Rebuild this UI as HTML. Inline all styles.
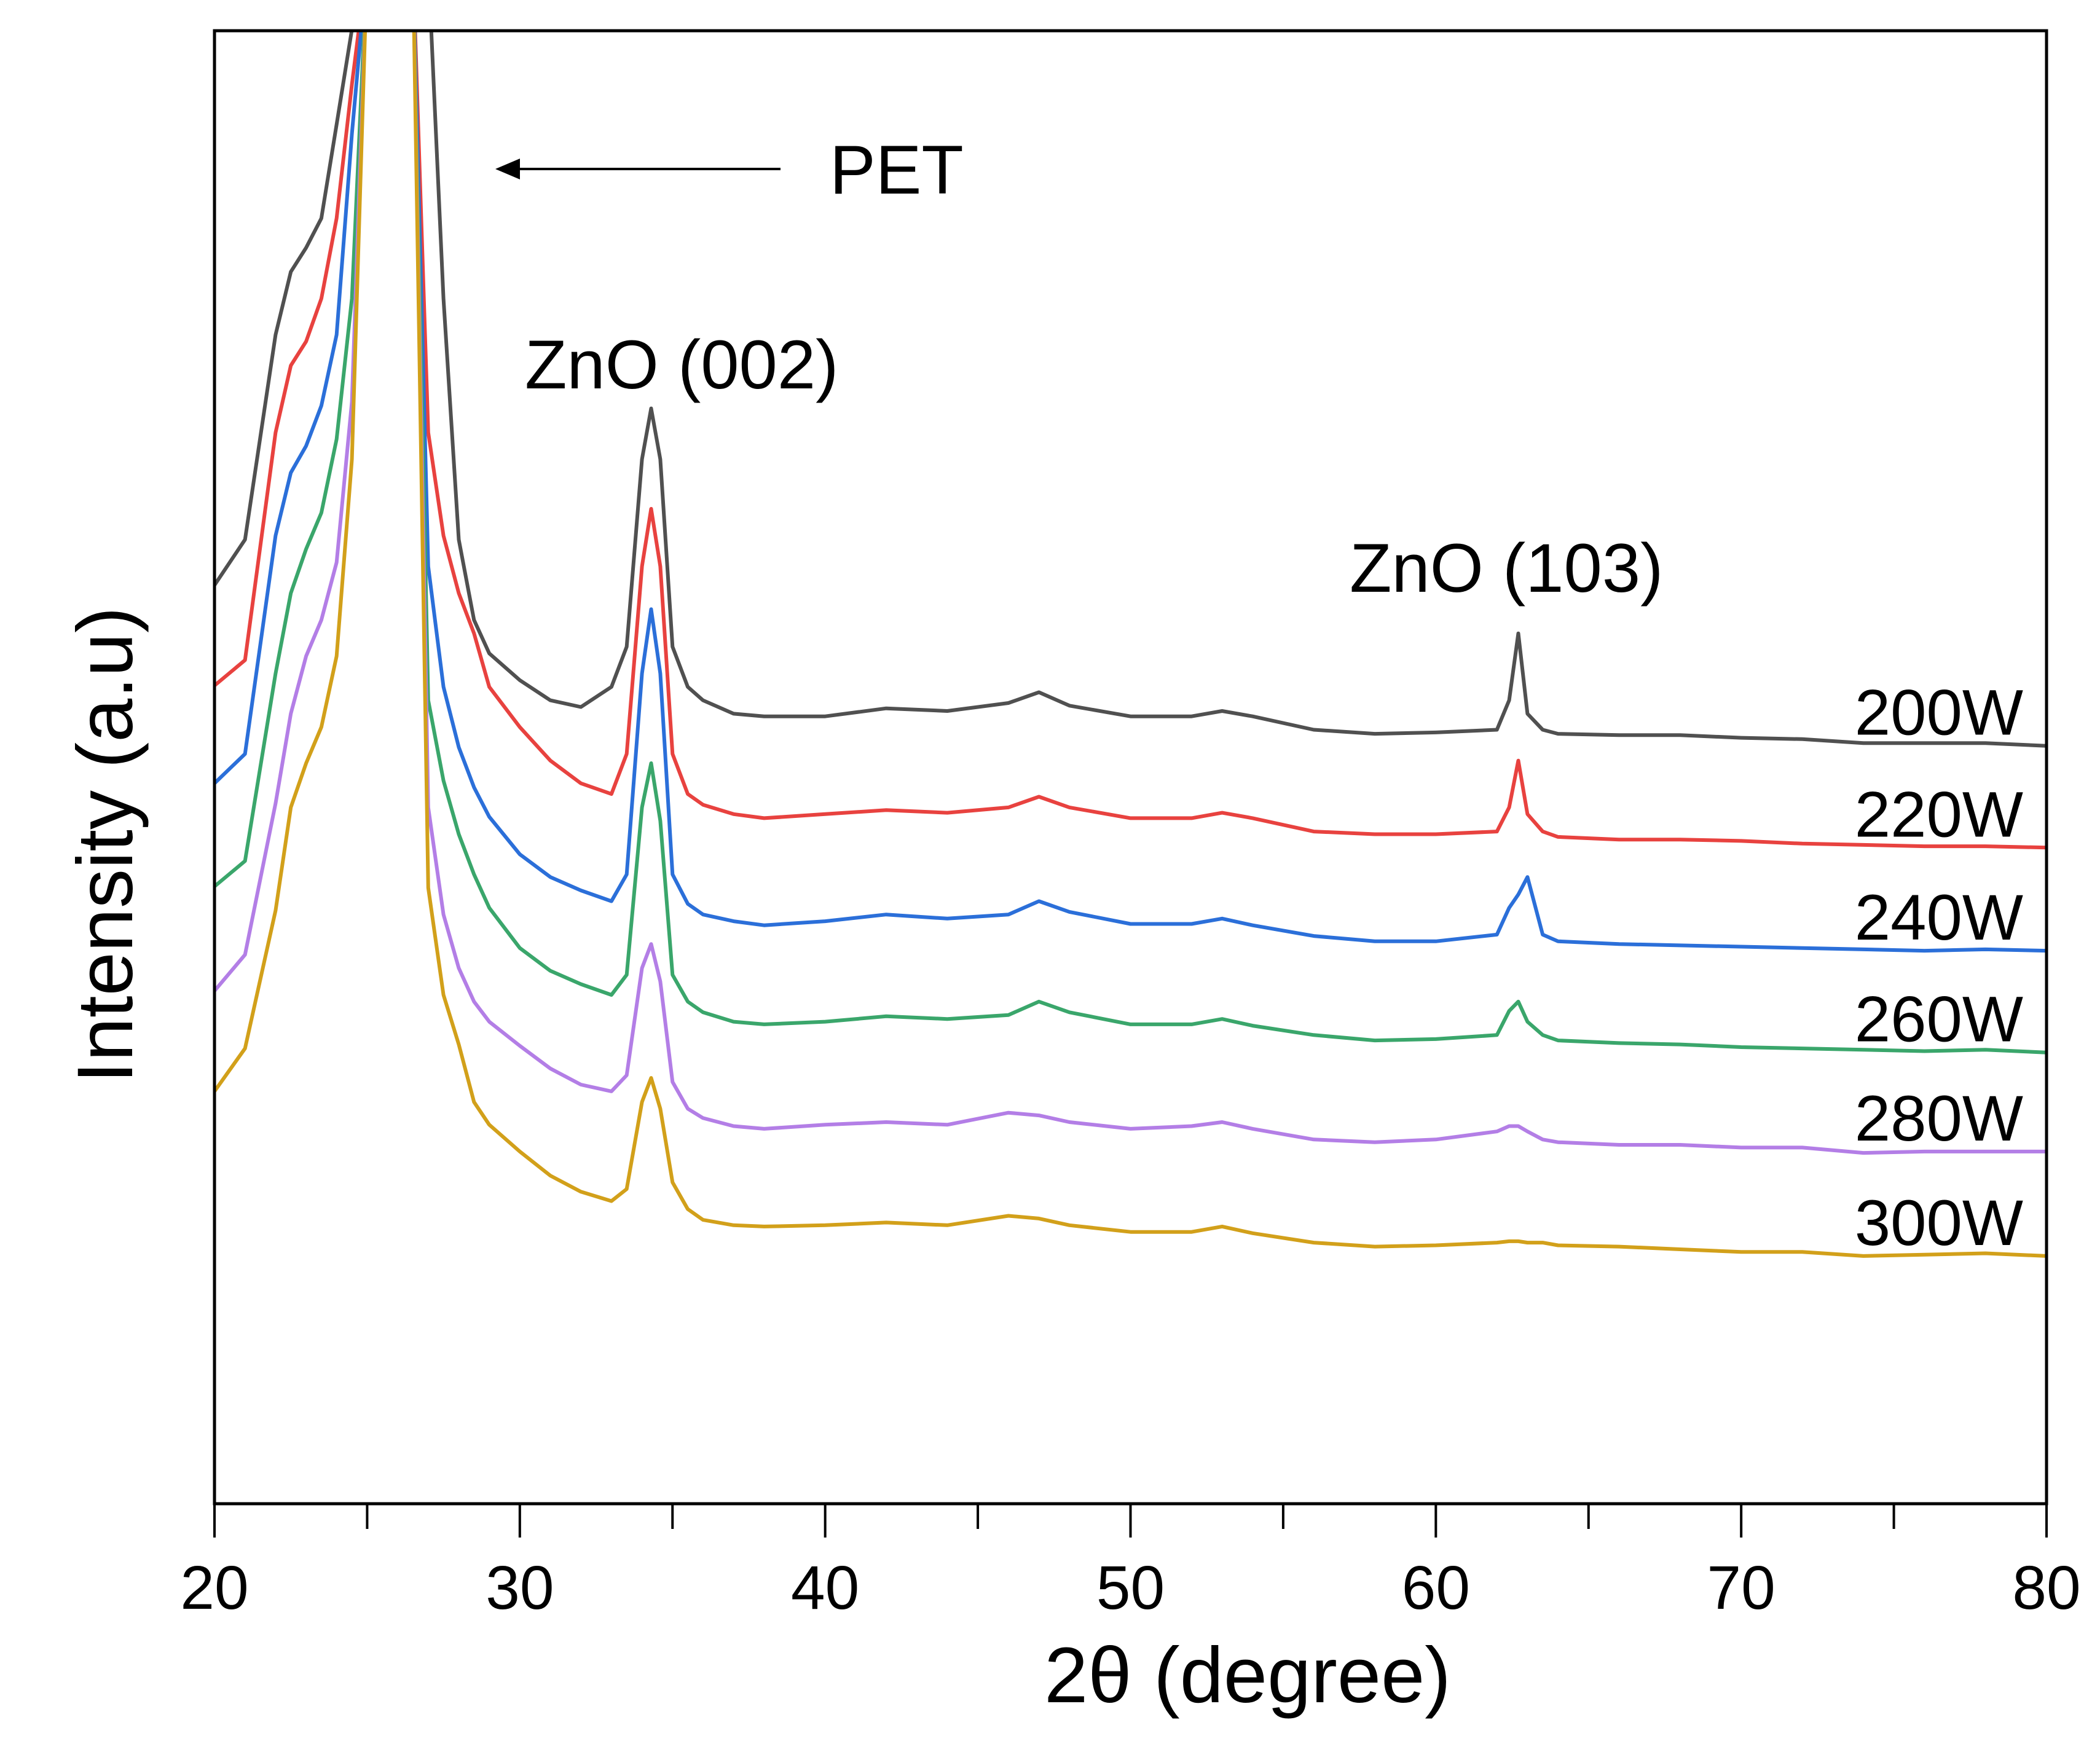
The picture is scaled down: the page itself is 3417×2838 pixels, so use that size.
<!DOCTYPE html>
<html><head><meta charset="utf-8"><style>
html,body{margin:0;padding:0;background:#fff;}
svg{display:block;font-family:"Liberation Sans",sans-serif;}
</style></head><body>
<svg id="chart" width="3417" height="2838" viewBox="0 0 3417 2838">
<defs><clipPath id="pc"><rect x="349" y="50" width="2981" height="2397"/></clipPath></defs>
<g id="series" clip-path="url(#pc)"></g>
<rect x="349" y="50" width="2981" height="2397" fill="none" stroke="#000" stroke-width="5"/>
<g id="ticks"></g>
<text x="2030" y="2770" font-size="128" text-anchor="middle">2θ  (degree)</text>
<text transform="translate(215,1375) rotate(-90)" font-size="128" text-anchor="middle">Intensity (a.u)</text>
<line x1="1270" y1="275" x2="840" y2="275" stroke="#000" stroke-width="4"/>
<polygon points="806,275 846,258 846,292" fill="#000"/>
<text x="1350" y="315" font-size="112">PET</text>
<text x="854" y="632" font-size="112">ZnO (002)</text>
<text x="2196" y="963" font-size="112">ZnO (103)</text>
<g id="slabels"></g>
</svg>
<script>
const xs=[20,21,22,22.5,23,23.5,24,24.5,25,25.5,26,26.5,27,27.5,28,28.5,29,30,31,32,33,33.5,34,34.3,34.6,35,35.5,36,37,38,40,42,44,46,47,48,50,52,53,54,56,58,60,62,62.4,62.7,63,63.5,64,66,68,70,72,74,76,78,80];
const s200=[686,720,873,920,938,960,1030,1101,1150,1150,1150,1150,1150,900,720,660,635,615,600,595,610,640,780,818,780,640,610,600,590,588,588,594,592,598,606,596,588,588,592,588,578,575,576,578,600,650,590,578,575,574,574,572,571,568,568,568,566];
const s220=[611,630,800,850,868,900,960,1060,1150,1150,1150,1150,800,723,680,650,610,580,555,538,530,560,700,743,700,560,530,522,515,512,515,518,516,520,528,520,512,512,516,512,502,500,500,502,520,555,515,502,498,496,496,495,493,492,491,491,490];
const s240=[538,560,723,770,790,820,873,1023,1150,1150,1150,1150,700,610,565,535,513,485,468,458,450,470,620,668,620,470,448,440,435,432,435,440,437,440,450,442,433,433,437,432,424,420,420,425,445,455,468,425,420,418,417,416,415,414,413,414,413];
const s260=[461,480,620,680,713,740,795,900,1150,1150,1150,1150,600,540,500,470,445,415,398,388,380,395,520,553,510,395,375,367,360,358,360,364,362,365,375,367,358,358,362,357,350,346,347,350,368,375,360,350,346,344,343,341,340,339,338,339,337];
const s280=[383,410,523,590,633,660,703,823,1150,1150,1150,1150,520,440,400,375,360,342,325,313,308,320,400,418,390,315,295,288,282,280,283,285,283,292,290,285,280,282,285,280,272,270,272,278,282,282,278,272,270,268,268,266,266,262,263,263,263];
const s300=[308,340,443,520,553,580,633,780,1150,1150,1150,1150,460,380,343,300,283,263,245,233,226,235,300,318,295,240,220,212,208,207,208,210,208,215,213,208,203,203,207,202,195,192,193,195,196,196,195,195,193,192,190,188,188,185,186,187,185];
const names=["200W","220W","240W","260W","280W","300W"];
const colors=["#505050","#e8423f","#2b6fd9","#3aa66b","#b37ee6","#d2a01a"];
const xTicks=[20,30,40,50,60,70,80];
const all=[s200,s220,s240,s260,s280,s300];
const X=v=>349+(v-20)/60*2981;
const Y=v=>2447-v*2.179;
const NS="http://www.w3.org/2000/svg";
const sg=document.getElementById('series');
all.forEach((s,i)=>{
  const p=document.createElementNS(NS,'path');
  p.setAttribute('d',s.map((v,j)=>(j?'L':'M')+X(xs[j]).toFixed(1)+','+Y(v).toFixed(1)).join(''));
  p.setAttribute('fill','none');p.setAttribute('stroke',colors[i]);p.setAttribute('stroke-width','6');p.setAttribute('stroke-linejoin','round');
  
  
  sg.appendChild(p);
  const t=document.createElementNS(NS,'text');
  t.setAttribute('x','3292');t.setAttribute('y',(Y(s[s.length-1])-18).toFixed(1));
  t.setAttribute('font-size','105');t.setAttribute('text-anchor','end');
  t.textContent=names[i];
  
  
  document.getElementById('slabels').appendChild(t);
});
const tg=document.getElementById('ticks');
for(let v=20;v<=80;v+=5){
  const l=document.createElementNS(NS,'line');
  const major=v%10===0;
  l.setAttribute('x1',X(v));l.setAttribute('x2',X(v));l.setAttribute('y1',2447);l.setAttribute('y2',major?2502:2488);
  l.setAttribute('stroke','#000');l.setAttribute('stroke-width','4');
  
  
  tg.appendChild(l);
}
xTicks.forEach(v=>{
  const t=document.createElementNS(NS,'text');
  t.setAttribute('x',X(v));t.setAttribute('y',2618);t.setAttribute('font-size','100');t.setAttribute('text-anchor','middle');
  t.textContent=v;
  
  
  tg.appendChild(t);
});
</script>
</body></html>
